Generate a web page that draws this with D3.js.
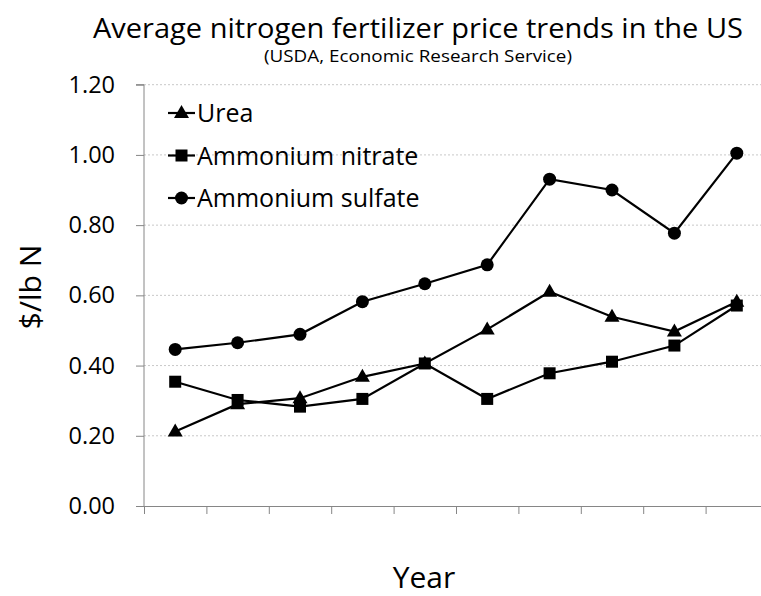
<!DOCTYPE html>
<html><head><meta charset="utf-8">
<script src="https://cdn.jsdelivr.net/npm/d3@7"></script>
<style>body{margin:0;background:#fff}svg{display:block}text{font-family:"Open Sans",sans-serif;fill:#000}</style>
</head><body>
<svg id="c" width="761" height="596"></svg>
<script>
const categories = ["1","2","3","4","5","6","7","8","9","10"];
const xTickLabels = ["","","","","","","","","","",""];
const yTicks = [0,0.2,0.4,0.6,0.8,1.0,1.2];
const urea = [0.212,0.290,0.307,0.368,0.406,0.503,0.610,0.539,0.497,0.582];
const ammoniumNitrate = [0.354,0.302,0.283,0.305,0.406,0.305,0.378,0.411,0.457,0.571];
const ammoniumSulfate = [0.446,0.465,0.489,0.582,0.633,0.687,0.931,0.900,0.777,1.005];
const seriesNames = ["Urea","Ammonium nitrate","Ammonium sulfate"];
const markers = ["triangle","square","circle"];

const svg = d3.select("#c");
const L=144, R=768, T=84.7, B=506;
const x = d3.scaleBand().domain(categories).range([L,R]);
const xEdge = d3.scaleLinear().domain([0,categories.length]).range([L,R]);
const y = d3.scaleLinear().domain([0,1.2]).range([B,T]);

// gridlines
svg.append("g").selectAll("line").data(yTicks.filter(d=>d>0)).join("line")
  .attr("x1",L).attr("x2",R).attr("y1",d=>y(d)).attr("y2",d=>y(d))
  .attr("stroke","#c8c8c8").attr("stroke-width",1).attr("stroke-dasharray","2,2");

// y axis
const ya = svg.append("g").attr("transform",`translate(${L},0)`)
  .call(d3.axisLeft(y).tickValues(yTicks).tickFormat(d3.format(".2f")).tickSize(8).tickPadding(21));
ya.select(".domain").attr("stroke","#868686").attr("d",`M-8,${T}H0V${B}`);
ya.selectAll(".tick line").attr("stroke","#868686");
ya.selectAll(".tick text").attr("font-size",23.5).attr("font-family","Open Sans, sans-serif").attr("fill","#000");

// x axis
const xa = svg.append("g").attr("transform",`translate(0,${B})`)
  .call(d3.axisBottom(xEdge).tickValues(d3.range(categories.length+1)).tickFormat((d,i)=>xTickLabels[i]).tickSize(8).tickSizeOuter(0));
xa.select(".domain").attr("stroke","#868686");
xa.selectAll(".tick line").attr("stroke","#868686");

// series
const all = [urea, ammoniumNitrate, ammoniumSulfate];
const line = d3.line().x((d,i)=>x(categories[i])+x.bandwidth()/2).y(d=>y(d));
function marker(g, type, cx, cy){
  if(type==="circle") g.append("circle").attr("cx",cx).attr("cy",cy).attr("r",6.5);
  else if(type==="square") g.append("rect").attr("x",cx-6).attr("y",cy-6).attr("width",12).attr("height",12);
  else g.append("path").attr("d",`M${cx},${cy-8}L${cx+7.5},${cy+5}L${cx-7.5},${cy+5}Z`);
}
all.forEach((vals,k)=>{
  const g = svg.append("g");
  g.append("path").datum(vals).attr("d",line).attr("fill","none").attr("stroke","#000").attr("stroke-width",2.2);
  const mg = g.append("g").attr("fill","#000");
  vals.forEach((v,i)=>marker(mg, markers[k], x(categories[i])+x.bandwidth()/2, y(v)));
});

// legend
const lg = svg.append("g");
seriesNames.forEach((n,k)=>{
  const cy = 113 + k*42.5;
  lg.append("line").attr("x1",168).attr("x2",195).attr("y1",cy).attr("y2",cy).attr("stroke","#000").attr("stroke-width",2.2);
  const mg = lg.append("g").attr("fill","#000");
  marker(mg, markers[k], 181.5, cy);
  lg.append("text").attr("x",197).attr("y",cy+9).attr("font-size",25).text(n);
});

// titles
svg.append("text").attr("x",418).attr("y",38).attr("text-anchor","middle").attr("font-size",27)
  .attr("textLength",650).attr("lengthAdjust","spacingAndGlyphs").text("Average nitrogen fertilizer price trends in the US");
svg.append("text").attr("x",418).attr("y",62).attr("text-anchor","middle").attr("font-size",17)
  .attr("textLength",308).attr("lengthAdjust","spacingAndGlyphs").text("(USDA, Economic Research Service)");
svg.append("text").attr("x",424).attr("y",588).attr("text-anchor","middle").attr("font-size",30).text("Year");
svg.append("text").attr("transform","translate(41,287) rotate(-90)").attr("text-anchor","middle").attr("font-size",30).text("$/lb N");
</script>
</body></html>
